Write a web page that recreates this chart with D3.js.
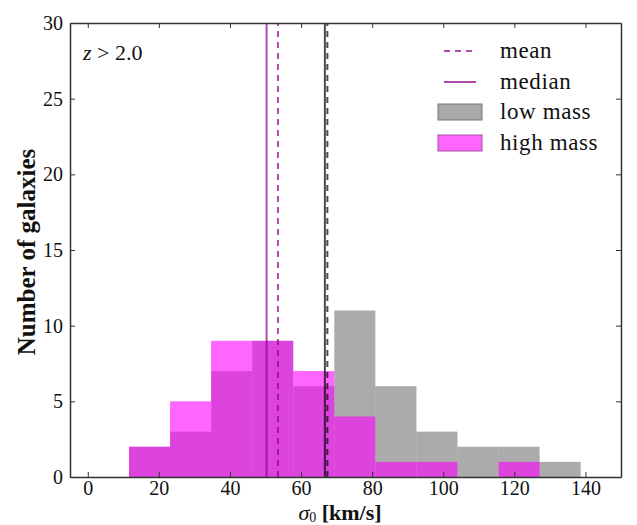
<!DOCTYPE html>
<html>
<head>
<meta charset="utf-8">
<script src="https://cdn.jsdelivr.net/npm/d3@7"></script>
<style>
  body { margin: 0; background: #fff; }
</style>
</head>
<body>
<div id="chart"></div>
<script>
// histogram bins (km/s), shared by both samples
var binEdges = [11.6, 23.15, 34.7, 46.25, 57.8, 69.35, 80.9, 92.45, 104.0, 115.55, 127.1, 138.65];
var lowMassCounts  = [2, 3, 7, 9, 6, 11, 6, 3, 2, 2, 1];
var highMassCounts = [2, 5, 9, 9, 7, 4, 1, 1, 0, 1, 0];
// summary statistics
var lowMassMean = 67.4, lowMassMedian = 66.7;
var highMassMean = 53.5, highMassMedian = 50.3;
var xTicks = [0, 20, 40, 60, 80, 100, 120, 140];
var yTicks = [0, 5, 10, 15, 20, 25, 30];
var legendLabels = ['mean', 'median', 'low mass', 'high mass'];

var serif = '"Liberation Serif", "Times New Roman", Times, serif';
var width = 637, height = 525;
var pLeft = 70, pRight = 621, pTop = 23, pBottom = 477;

var svg = d3.select('#chart').append('svg').attr('width', width).attr('height', height)
    .style('font-family', serif);

var x = d3.scaleLinear().domain([-5, 150]).range([pLeft, pRight]);
var y = d3.scaleLinear().domain([0, 30]).range([pBottom, pTop]);

function bins(counts) {
    return counts.map((c, i) => ({x0: binEdges[i], x1: binEdges[i + 1], n: c}));
}

// low mass first, high mass drawn over it
svg.append('g').selectAll('rect').data(bins(lowMassCounts)).enter().append('rect')
    .attr('x', d => x(d.x0)).attr('width', d => x(d.x1) - x(d.x0))
    .attr('y', d => y(d.n)).attr('height', d => y(0) - y(d.n))
    .attr('fill', '#000').attr('fill-opacity', 0.33);

svg.append('g').selectAll('rect').data(bins(highMassCounts)).enter().append('rect')
    .attr('x', d => x(d.x0)).attr('width', d => x(d.x1) - x(d.x0))
    .attr('y', d => y(d.n)).attr('height', d => y(0) - y(d.n))
    .attr('fill', '#ff00ff').attr('fill-opacity', 0.6);

var lines = [
    {v: highMassMedian, c: '#8b008b', dash: null},
    {v: highMassMean, c: '#8b008b', dash: '6,5'},
    {v: lowMassMedian, c: '#000', dash: null},
    {v: lowMassMean, c: '#000', dash: '6,5'}
];
svg.append('g').selectAll('line').data(lines).enter().append('line')
    .attr('x1', d => x(d.v)).attr('x2', d => x(d.v))
    .attr('y1', y(0)).attr('y2', y(30))
    .attr('stroke', d => d.c).attr('stroke-opacity', 0.7)
    .attr('stroke-width', 2)
    .attr('stroke-dasharray', d => d.dash);

// axes, ticks pointing inwards on all four sides
svg.append('g').attr('transform', `translate(0,${pBottom})`)
    .call(d3.axisBottom(x).tickValues(xTicks).tickSizeInner(-5).tickSizeOuter(0).tickPadding(4));
svg.append('g').attr('transform', `translate(0,${pTop})`)
    .call(d3.axisTop(x).tickValues(xTicks).tickSizeInner(-5).tickSizeOuter(0).tickFormat(''));
svg.append('g').attr('transform', `translate(${pLeft},0)`)
    .call(d3.axisLeft(y).tickValues(yTicks).tickSizeInner(-5).tickSizeOuter(0).tickPadding(7));
svg.append('g').attr('transform', `translate(${pRight},0)`)
    .call(d3.axisRight(y).tickValues(yTicks).tickSizeInner(-5).tickSizeOuter(0).tickFormat(''));

svg.selectAll('g').attr('font-family', null).attr('font-size', null);
svg.selectAll('.domain').attr('stroke', '#333').attr('stroke-width', 1.5);
svg.selectAll('.tick line').attr('stroke', '#333');
svg.selectAll('.tick text').attr('fill', '#111').style('font-family', serif).style('font-size', '20px');

// axis labels
var xl = svg.append('text').attr('x', 340).attr('y', 520).attr('text-anchor', 'middle')
    .style('font-family', serif).style('font-size', '22px').attr('fill', '#111');
xl.append('tspan').style('font-style', 'italic').text('σ');
xl.append('tspan').attr('dy', 2).style('font-size', '14px').text('0');
xl.append('tspan').attr('dy', -2).style('font-weight', 'bold').text(' [km/s]');

svg.append('text').attr('transform', 'translate(35,252)rotate(-90)')
    .attr('text-anchor', 'middle').attr('fill', '#111')
    .style('font-family', serif).style('font-size', '25px').style('font-weight', 'bold')
    .text('Number of galaxies');

// redshift annotation
var zt = svg.append('text').attr('x', 83).attr('y', 60).attr('fill', '#111')
    .style('font-family', serif).style('font-size', '22px');
zt.append('tspan').style('font-style', 'italic').text('z');
zt.append('tspan').text(' > 2.0');

// legend
var leg = svg.append('g');
var ly = [51, 82, 112, 143];
leg.append('line').attr('x1', 444).attr('x2', 476).attr('y1', ly[0]).attr('y2', ly[0])
    .attr('stroke', '#8b008b').attr('stroke-opacity', 0.7).attr('stroke-width', 2).attr('stroke-dasharray', '6,5');
leg.append('line').attr('x1', 444).attr('x2', 476).attr('y1', ly[1]).attr('y2', ly[1])
    .attr('stroke', '#8b008b').attr('stroke-opacity', 0.7).attr('stroke-width', 2);
leg.append('rect').attr('x', 438).attr('y', ly[2] - 8).attr('width', 44).attr('height', 16)
    .attr('fill', '#aaaaaa').attr('stroke', '#777').attr('stroke-width', 1);
leg.append('rect').attr('x', 438).attr('y', ly[3] - 8).attr('width', 44).attr('height', 16)
    .attr('fill', '#ff66ff').attr('stroke', '#a050a0').attr('stroke-width', 1);
leg.selectAll('text.lab').data(legendLabels).enter().append('text').attr('class', 'lab')
    .attr('x', 500).attr('y', (d, i) => ly[i]).attr('dy', '0.32em').attr('fill', '#111')
    .style('font-family', serif).style('font-size', '23px').style('letter-spacing', '0.6px').text(d => d);
</script>
</body>
</html>
